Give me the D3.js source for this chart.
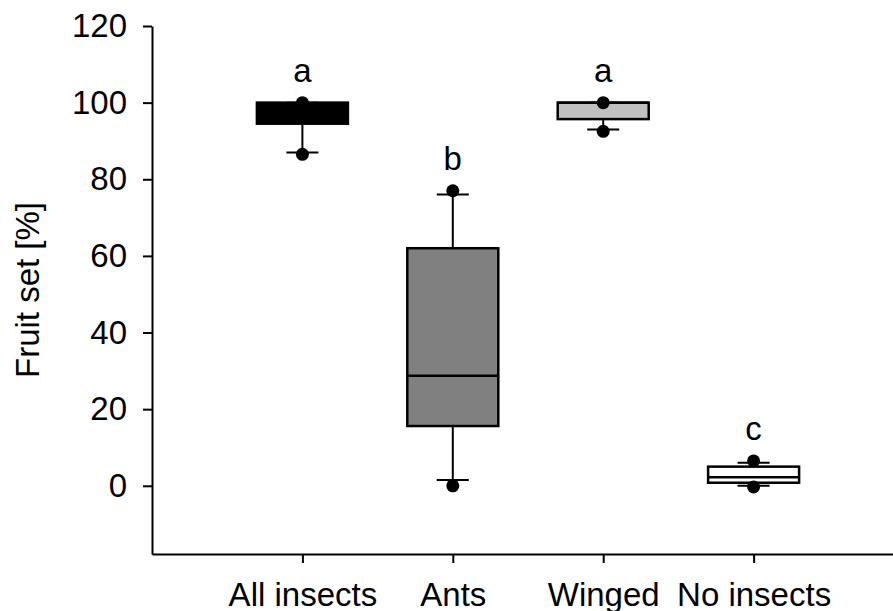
<!DOCTYPE html>
<html>
<head>
<meta charset="utf-8">
<script src="https://cdn.jsdelivr.net/npm/d3@7"></script>
<style>
  body { margin: 0; background: #fff; }
  svg { display: block; }
  text { font-family: "Liberation Sans", Arial, sans-serif; }
</style>
</head>
<body>
<div id="chart"></div>
<script>
// groups on the x axis
var groups = ['All insects', 'Ants', 'Winged', 'No insects'];
// box stats (fruit set %)
var whiskLow = [87, 1.5, 93, 0];
var q1 = [94.5, 15.6, 95.7, 0.8];
var median = [98, 28.7, 100, 2.2];
var q3 = [100, 62, 100, 5];
var whiskHigh = [100, 76, 100, 6];
// outlier dots (lower, upper)
var dotLow = [86.5, 0, 92.5, -0.3];
var dotHigh = [100, 77, 100, 6.5];
// significance letters
var letters = ['a', 'b', 'a', 'c'];
var fills = ['#000000', '#808080', '#c0c0c0', '#ffffff'];
var yTicks = [0, 20, 40, 60, 80, 100, 120];

var width = 893, height = 611;
var fs = 33;

var svg = d3.select('#chart').append('svg')
  .attr('width', width).attr('height', height);

// x: group i sits at i+1, axis runs past the right edge
var x = d3.scaleLinear().domain([0, 5]).range([152, 904]);
var y = d3.scaleLinear().domain([-17.8, 120]).range([554, 26]);

var boxW = 91, capW = 32, r = 6.5;

// y axis
var yAxis = svg.append('g')
  .attr('transform', 'translate(152,0)')
  .call(d3.axisLeft(y).tickValues(yTicks).tickSize(9).tickSizeOuter(0).tickPadding(16));
yAxis.select('.domain').attr('stroke-width', 2);
yAxis.selectAll('.tick line').attr('stroke-width', 2);
yAxis.selectAll('.tick text').attr('font-size', fs).attr('fill', '#000')
  .style('font-family', '"Liberation Sans", Arial, sans-serif');

// x axis
var xAxis = svg.append('g')
  .attr('transform', 'translate(0,554)')
  .call(d3.axisBottom(x).tickValues([1, 2, 3, 4])
    .tickFormat(function (d) { return groups[d - 1]; })
    .tickSize(9).tickSizeOuter(0).tickPadding(20));
xAxis.select('.domain').attr('stroke-width', 2);
xAxis.selectAll('.tick line').attr('stroke-width', 2);
xAxis.selectAll('.tick text').attr('font-size', fs).attr('fill', '#000')
  .style('font-family', '"Liberation Sans", Arial, sans-serif');

// y label
svg.append('text')
  .attr('transform', 'translate(39,290) rotate(-90)')
  .attr('text-anchor', 'middle')
  .attr('font-size', fs)
  .text('Fruit set [%]');

var boxes = svg.selectAll('.box').data(groups).enter().append('g').attr('class', 'box');

boxes.each(function (g, i) {
  var sel = d3.select(this);
  var cx = x(i + 1);
  // whiskers
  sel.append('line').attr('x1', cx).attr('x2', cx)
    .attr('y1', y(whiskLow[i])).attr('y2', y(q1[i]))
    .attr('stroke', '#000').attr('stroke-width', 2);
  sel.append('line').attr('x1', cx).attr('x2', cx)
    .attr('y1', y(whiskHigh[i])).attr('y2', y(q3[i]))
    .attr('stroke', '#000').attr('stroke-width', 2);
  // caps
  [whiskLow[i], whiskHigh[i]].forEach(function (v) {
    sel.append('line').attr('x1', cx - capW / 2).attr('x2', cx + capW / 2)
      .attr('y1', y(v)).attr('y2', y(v))
      .attr('stroke', '#000').attr('stroke-width', 2);
  });
  // box
  sel.append('rect')
    .attr('x', cx - boxW / 2).attr('width', boxW)
    .attr('y', y(q3[i])).attr('height', y(q1[i]) - y(q3[i]))
    .attr('fill', fills[i]).attr('stroke', '#000').attr('stroke-width', 2.5);
  // median
  sel.append('line').attr('x1', cx - boxW / 2).attr('x2', cx + boxW / 2)
    .attr('y1', y(median[i])).attr('y2', y(median[i]))
    .attr('stroke', '#000').attr('stroke-width', 2.5);
  // dots
  [dotLow[i], dotHigh[i]].forEach(function (v) {
    sel.append('circle').attr('cx', cx).attr('cy', y(v)).attr('r', r).attr('fill', '#000');
  });
  // letter
  sel.append('text')
    .attr('x', cx).attr('y', y(dotHigh[i]) - 21)
    .attr('text-anchor', 'middle')
    .attr('font-size', fs)
    .text(letters[i]);
});
</script>
</body>
</html>
